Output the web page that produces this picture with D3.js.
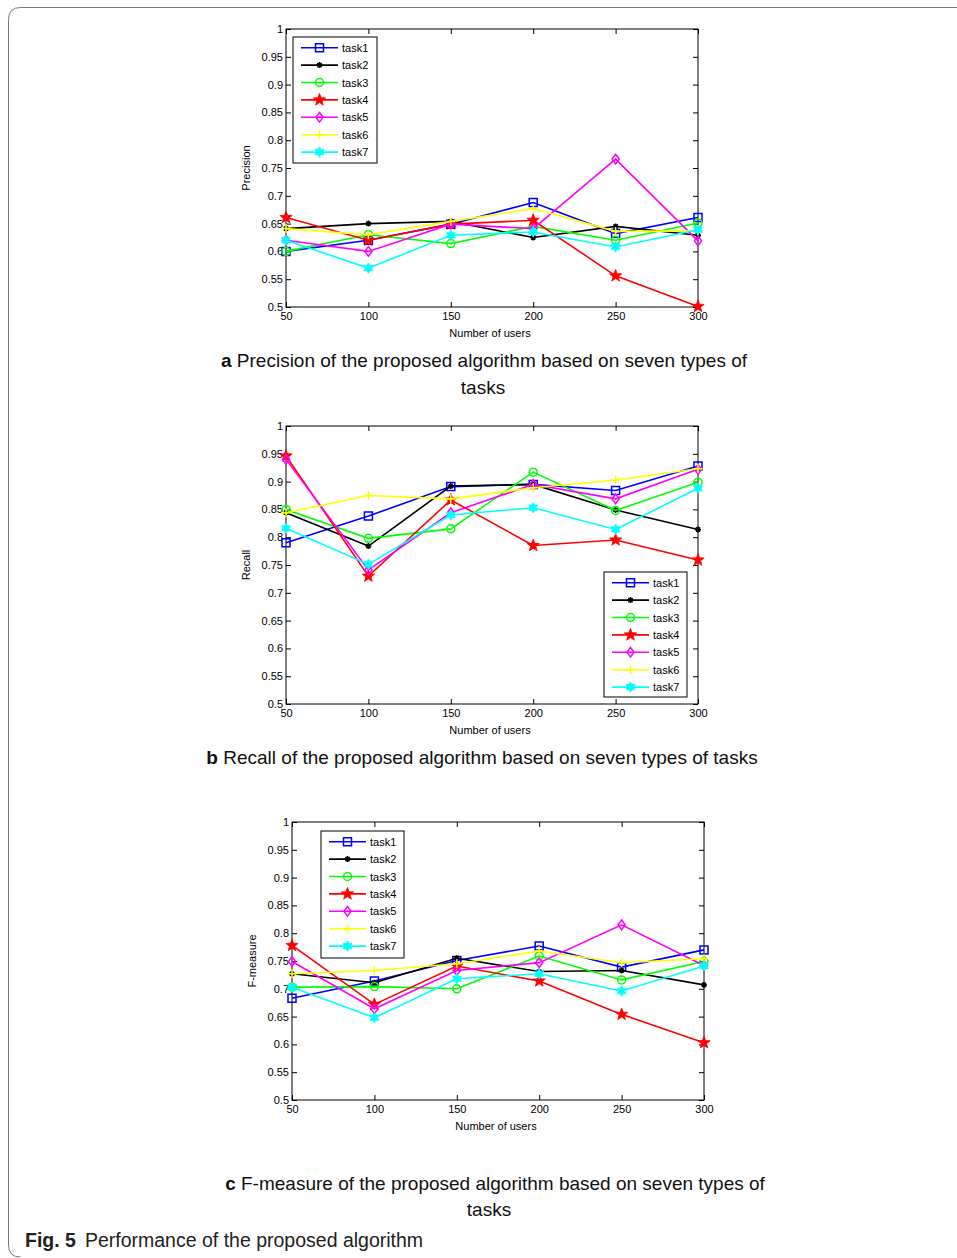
<!DOCTYPE html>
<html>
<head>
<meta charset="utf-8">
<script src="https://cdn.jsdelivr.net/npm/d3@7"></script>
<style>
  body { margin: 0; background: #fff; }
  svg { display: block; }
  text { font-family: "Liberation Sans", Arial, sans-serif; }
</style>
</head>
<body>
<svg width="957" height="1258"></svg>
<script>
const users = [50, 100, 150, 200, 250, 300];
const taskNames = ["task1", "task2", "task3", "task4", "task5", "task6", "task7"];
const taskColors = ["#0000ff", "#000000", "#00ff00", "#ff0000", "#ff00ff", "#ffff00", "#00ffff"];
const taskMarkers = ["square", "asterisk", "circle", "pentagram", "diamond", "plus", "hexagram"];
const yTicks = [0.5, 0.55, 0.6, 0.65, 0.7, 0.75, 0.8, 0.85, 0.9, 0.95, 1];
const yTickLabels = ["0.5", "0.55", "0.6", "0.65", "0.7", "0.75", "0.8", "0.85", "0.9", "0.95", "1"];

// one row per task, one value per user count
const precision = [
  [0.600, 0.620, 0.649, 0.688, 0.632, 0.661],
  [0.641, 0.650, 0.654, 0.625, 0.645, 0.629],
  [0.600, 0.630, 0.614, 0.645, 0.620, 0.651],
  [0.661, 0.620, 0.649, 0.656, 0.556, 0.501],
  [0.620, 0.600, 0.649, 0.641, 0.766, 0.619],
  [0.641, 0.630, 0.654, 0.677, 0.636, 0.637],
  [0.620, 0.570, 0.629, 0.635, 0.608, 0.639]
];
const recall = [
  [0.790, 0.838, 0.891, 0.895, 0.884, 0.928],
  [0.844, 0.784, 0.892, 0.895, 0.849, 0.814],
  [0.850, 0.798, 0.815, 0.917, 0.848, 0.899],
  [0.946, 0.730, 0.867, 0.785, 0.795, 0.759],
  [0.940, 0.741, 0.844, 0.895, 0.869, 0.922],
  [0.844, 0.875, 0.869, 0.889, 0.903, 0.923],
  [0.816, 0.751, 0.840, 0.853, 0.814, 0.888]
];
const fmeasure = [
  [0.683, 0.714, 0.751, 0.777, 0.739, 0.770],
  [0.727, 0.711, 0.755, 0.731, 0.733, 0.707],
  [0.703, 0.704, 0.700, 0.759, 0.716, 0.749],
  [0.778, 0.672, 0.741, 0.714, 0.654, 0.603],
  [0.749, 0.664, 0.733, 0.747, 0.815, 0.742],
  [0.727, 0.733, 0.745, 0.768, 0.747, 0.754],
  [0.703, 0.648, 0.718, 0.727, 0.696, 0.741]
];

const svg = d3.select("svg");

// frame around the figure
svg.append("path")
  .attr("d", "M957,7.5H20.5Q8.5,7.5 8.5,19.5V1245Q8.5,1257 20.5,1257")
  .attr("fill", "none")
  .attr("stroke", "#777")
  .attr("stroke-width", 1);

function starPath(n, R, r) {
  const pts = [];
  for (let i = 0; i < n * 2; i++) {
    const a = -Math.PI / 2 + i * Math.PI / n;
    const rad = i % 2 === 0 ? R : r;
    pts.push([rad * Math.cos(a), rad * Math.sin(a)]);
  }
  return "M" + pts.map(p => p[0].toFixed(2) + "," + p[1].toFixed(2)).join("L") + "Z";
}

function drawMarker(sel, type, color) {
  if (type === "square") {
    sel.append("path").attr("d", "M-4,-4h8v8h-8z").attr("fill", "none").attr("stroke", color).attr("stroke-width", 1.5);
  } else if (type === "circle") {
    sel.append("circle").attr("r", 4).attr("fill", "none").attr("stroke", color).attr("stroke-width", 1.5);
  } else if (type === "diamond") {
    sel.append("path").attr("d", "M0,-4.8L3.6,0L0,4.8L-3.6,0Z").attr("fill", "none").attr("stroke", color).attr("stroke-width", 1.5);
  } else if (type === "pentagram") {
    sel.append("path").attr("d", starPath(5, 6.5, 2.7)).attr("fill", color).attr("stroke", color).attr("stroke-width", 0.8);
  } else if (type === "hexagram") {
    sel.append("path").attr("d", starPath(6, 5.2, 3)).attr("fill", color).attr("stroke", color).attr("stroke-width", 0.8);
  } else if (type === "plus") {
    sel.append("path").attr("d", "M-4.5,0H4.5M0,-4.5V4.5").attr("stroke", color).attr("stroke-width", 1.5);
  } else if (type === "asterisk") {
    sel.append("path").attr("d", "M-3,0H3M0,-3V3M-2.1,-2.1L2.1,2.1M-2.1,2.1L2.1,-2.1").attr("stroke", color).attr("stroke-width", 1.5);
  }
}

const panels = [
  { data: precision, yLabel: "Precision", left: 286, right: 698, top: 29, bottom: 307,
    legend: { x: 293, y: 37, w: 84, h: 126 },
    caption: [{ bold: "a", text: " Precision of the proposed algorithm based on seven types of", x: 484, y: 367 },
              { bold: "", text: "tasks", x: 483, y: 394 }] },
  { data: recall, yLabel: "Recall", left: 286, right: 698, top: 426, bottom: 704,
    legend: { x: 604, y: 572, w: 83, h: 125 },
    caption: [{ bold: "b", text: " Recall of the proposed algorithm based on seven types of tasks", x: 482, y: 764 }] },
  { data: fmeasure, yLabel: "F-measure", left: 292, right: 704, top: 822, bottom: 1100,
    legend: { x: 321, y: 831, w: 83, h: 127 },
    caption: [{ bold: "c", text: " F-measure of the proposed algorithm based on seven types of", x: 495, y: 1190 },
              { bold: "", text: "tasks", x: 489, y: 1216 }] }
];

panels.forEach(p => {
  const x = d3.scaleLinear().domain([50, 300]).range([p.left, p.right]);
  const y = d3.scaleLinear().domain([0.5, 1]).range([p.bottom, p.top]);
  const g = svg.append("g");

  const fmtY = (d, i) => yTickLabels[i];

  const axB = g.append("g").attr("transform", `translate(0,${p.bottom})`)
    .call(d3.axisBottom(x).tickValues(users).tickSizeInner(-5).tickSizeOuter(0).tickPadding(5).tickFormat(d3.format("d")));
  const axT = g.append("g").attr("transform", `translate(0,${p.top})`)
    .call(d3.axisTop(x).tickValues(users).tickSizeInner(-5).tickSizeOuter(0).tickFormat(""));
  const axL = g.append("g").attr("transform", `translate(${p.left},0)`)
    .call(d3.axisLeft(y).tickValues(yTicks).tickSizeInner(-5).tickSizeOuter(0).tickPadding(3).tickFormat(fmtY));
  const axR = g.append("g").attr("transform", `translate(${p.right},0)`)
    .call(d3.axisRight(y).tickValues(yTicks).tickSizeInner(-5).tickSizeOuter(0).tickFormat(""));
  [axB, axT, axL, axR].forEach(a => {
    a.select(".domain").remove();
    a.selectAll("text").attr("font-family", "Liberation Sans, Arial, sans-serif").attr("font-size", 11).attr("fill", "#000");
    a.selectAll("line").attr("stroke", "#000");
  });

  // axes box
  g.append("rect")
    .attr("x", p.left).attr("y", p.top)
    .attr("width", p.right - p.left).attr("height", p.bottom - p.top)
    .attr("fill", "none").attr("stroke", "#000").attr("stroke-width", 1);

  g.append("text")
    .attr("x", (p.left + p.right) / 2 - 2).attr("y", p.bottom + 30)
    .attr("text-anchor", "middle").attr("font-size", 11)
    .text("Number of users");

  g.append("text")
    .attr("transform", `translate(${p.left - 36},${(p.top + p.bottom) / 2}) rotate(-90)`)
    .attr("text-anchor", "middle").attr("font-size", 11)
    .text(p.yLabel);

  const line = d3.line().x((d, i) => x(users[i])).y(d => y(d));

  p.data.forEach((vals, t) => {
    g.append("path")
      .attr("d", line(vals))
      .attr("fill", "none")
      .attr("stroke", taskColors[t])
      .attr("stroke-width", 1.6);
    vals.forEach((v, i) => {
      const m = g.append("g").attr("transform", `translate(${x(users[i])},${y(v)})`);
      drawMarker(m, taskMarkers[t], taskColors[t]);
    });
  });

  // legend
  const L = p.legend;
  const lg = g.append("g").attr("transform", `translate(${L.x},${L.y})`);
  lg.append("rect").attr("width", L.w).attr("height", L.h)
    .attr("fill", "#fff").attr("stroke", "#000").attr("stroke-width", 1);
  taskNames.forEach((name, t) => {
    const ry = 10.7 + t * 17.4;
    lg.append("line").attr("x1", 8).attr("x2", 45).attr("y1", ry).attr("y2", ry)
      .attr("stroke", taskColors[t]).attr("stroke-width", 1.6);
    drawMarker(lg.append("g").attr("transform", `translate(26.5,${ry})`), taskMarkers[t], taskColors[t]);
    lg.append("text").attr("x", 49).attr("y", ry + 4).attr("font-size", 11).text(name);
  });

  // caption
  p.caption.forEach(c => {
    const tx = svg.append("text")
      .attr("x", c.x).attr("y", c.y)
      .attr("text-anchor", "middle")
      .attr("font-size", 19)
      .attr("fill", "#111");
    if (c.bold) tx.append("tspan").attr("font-weight", "bold").text(c.bold);
    tx.append("tspan").text(c.text);
  });
});

const fig = svg.append("text")
  .attr("x", 25).attr("y", 1247)
  .attr("font-family", "Open Sans, Noto Sans, sans-serif")
  .attr("font-size", 19.5)
  .attr("fill", "#222");
fig.append("tspan").attr("font-weight", "bold").text("Fig. 5");
fig.append("tspan").attr("dx", 9).attr("font-weight", 300).text("Performance of the proposed algorithm");
</script>
</body>
</html>
